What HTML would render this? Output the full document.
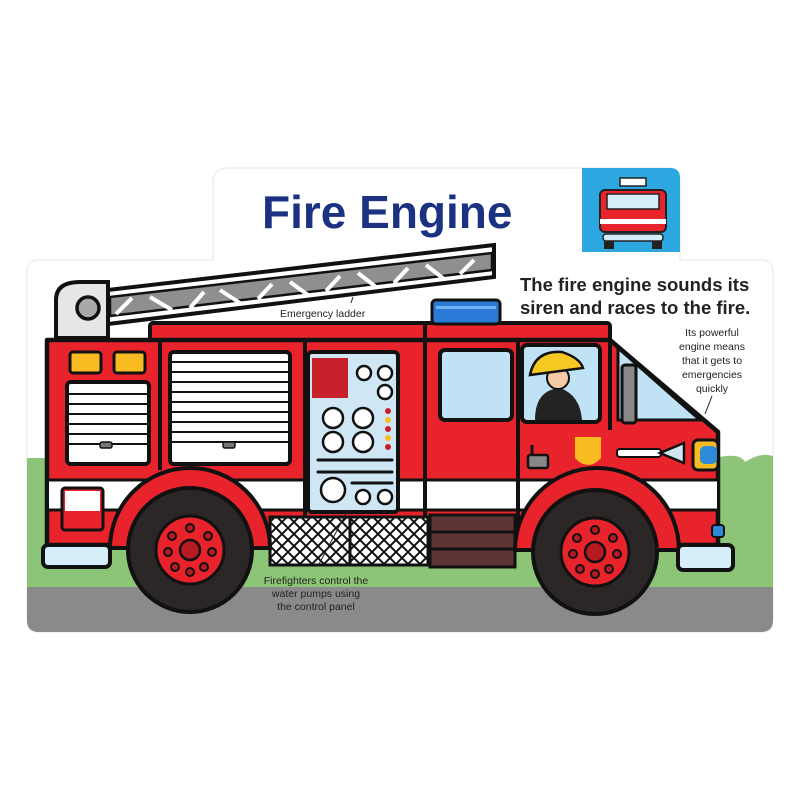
<!DOCTYPE html>
<html><head><meta charset="utf-8"><style>
html,body{margin:0;padding:0;background:#fff;}
svg{display:block}
text{font-family:"Liberation Sans",sans-serif;}
</style></head><body>
<svg width="800" height="800" viewBox="0 0 800 800" xmlns="http://www.w3.org/2000/svg">
<path d="M228 168 H668 Q680 168 680 180 V260 H761 Q773 260 773 272 V620 Q773 632 761 632 H39 Q27 632 27 620 V272 Q27 260 39 260 H213 V183 Q213 168 228 168 Z" fill="#fff" stroke="#eeeeee" stroke-width="1.5"/>
<path d="M27 458 H60 V588 H27 Z" fill="#8cc577"/>
<path d="M27 545 H773 V588 H27 Z" fill="#8cc577"/>
<path d="M715 458 Q740 452 745 462 Q760 452 773 456 V588 H715 Z" fill="#8cc577"/>
<path d="M27 587 H773 V620 Q773 632 761 632 H39 Q27 632 27 620 Z" fill="#8a8a8a"/>
<text x="262" y="228" font-size="46" font-weight="bold" fill="#1b3283">Fire Engine</text>
<text x="520" y="291" font-size="18.5" font-weight="bold" fill="#222">The fire engine sounds its</text>
<text x="520" y="314" font-size="18.5" font-weight="bold" fill="#222">siren and races to the fire.</text>
<path d="M582 168 H670 Q680 168 680 178 V252 H582 Z" fill="#2ca7e0"/>
<rect x="600" y="190" width="66" height="42" rx="5" fill="#e8232b" stroke="#222" stroke-width="2"/>
<rect x="607" y="194" width="52" height="15" fill="#d6eef9" stroke="#222" stroke-width="1.5"/>
<rect x="620" y="178" width="26" height="8" fill="#fff" stroke="#222" stroke-width="1.5"/>
<rect x="600" y="219" width="66" height="5" fill="#fff"/>
<rect x="603" y="234" width="60" height="7" rx="3" fill="#d6eef9" stroke="#222" stroke-width="1.5"/>
<rect x="604" y="241" width="10" height="8" fill="#222"/><rect x="652" y="241" width="10" height="8" fill="#222"/>
<path d="M56 338 V300 Q56 282 80 282 H108 V338 Z" fill="#e6e6e8" stroke="#111" stroke-width="4"/>
<circle cx="88" cy="308" r="11" fill="#a9a9a9" stroke="#111" stroke-width="3.5"/>
<path d="M108 290 L494 245 L494 277 L108 324 Z" fill="#fff" stroke="#111" stroke-width="4"/>
<path d="M110 297 L492 253 L492 270 L110 316 Z" fill="#8f8f8f" stroke="#111" stroke-width="2.5"/>
<g stroke="#fff" stroke-width="4">
<path d="M116 314 L132 298 M150 297 L172 310 M190 308 L204 292 M220 290 L240 303 M258 299 L272 284 M290 282 L308 295 M326 291 L340 276 M358 273 L376 287 M394 283 L408 268 M426 265 L444 279 M460 274 L474 260"/>
</g>
<rect x="150" y="323" width="460" height="18" rx="3" fill="#e8232b" stroke="#111" stroke-width="4"/>
<rect x="432" y="300" width="68" height="24" rx="4" fill="#2c7ad8" stroke="#111" stroke-width="3"/>
<rect x="436" y="306" width="60" height="3" fill="#6fb1f0"/>
<path d="M47 340 H610 L718 432 V545 H47 Z" fill="#e8232b" stroke="#111" stroke-width="4.5" stroke-linejoin="round"/>
<rect x="49" y="480" width="668" height="30" fill="#fff"/>
<path d="M47 480 H718 M47 510 H718" stroke="#111" stroke-width="3"/>
<path d="M160 340 V470 M305 340 V545 M425 322 V545 M518 340 V545 M610 340 V430" stroke="#111" stroke-width="4"/>
<rect x="70" y="352" width="31" height="21" rx="3" fill="#f8bb22" stroke="#111" stroke-width="3"/>
<rect x="114" y="352" width="31" height="21" rx="3" fill="#f8bb22" stroke="#111" stroke-width="3"/>
<rect x="67" y="382" width="82" height="82" rx="4" fill="#fff" stroke="#111" stroke-width="4"/>
<g stroke="#111" stroke-width="2"><path d="M69 394H147M69 404H147M69 414H147M69 424H147M69 434H147M69 444H147"/></g>
<rect x="170" y="352" width="120" height="112" rx="4" fill="#fff" stroke="#111" stroke-width="4"/>
<g stroke="#111" stroke-width="2"><path d="M172 362H288M172 372H288M172 382H288M172 392H288M172 402H288M172 412H288M172 422H288M172 432H288M172 442H288"/></g>
<rect x="100" y="442" width="12" height="6" rx="2" fill="#777" stroke="#111" stroke-width="1.5"/>
<rect x="223" y="442" width="12" height="6" rx="2" fill="#777" stroke="#111" stroke-width="1.5"/>
<rect x="62" y="488" width="41" height="42" rx="3" fill="#e8232b" stroke="#111" stroke-width="3"/>
<rect x="65" y="491" width="35" height="20" fill="#fff"/>
<rect x="308" y="352" width="90" height="160" rx="4" fill="#cfe7f5" stroke="#111" stroke-width="4"/>
<rect x="312" y="358" width="36" height="40" fill="#c8202a"/>
<g fill="#fff" stroke="#111" stroke-width="2.5">
<circle cx="364" cy="373" r="7"/><circle cx="385" cy="373" r="7"/><circle cx="385" cy="392" r="7"/>
<circle cx="333" cy="418" r="10"/><circle cx="363" cy="418" r="10"/>
<circle cx="333" cy="442" r="10"/><circle cx="363" cy="442" r="10"/>
<circle cx="333" cy="490" r="12"/><circle cx="363" cy="497" r="7"/><circle cx="385" cy="497" r="7"/>
</g>
<g fill="#c8202a"><circle cx="388" cy="411" r="3"/><circle cx="388" cy="429" r="3"/><circle cx="388" cy="447" r="3"/></g>
<g fill="#f8bb22"><circle cx="388" cy="420" r="3"/><circle cx="388" cy="438" r="3"/></g>
<g stroke="#111" stroke-width="3" stroke-linecap="round"><path d="M318 460H392M318 472H392M352 483H392"/></g>
<defs><pattern id="m" width="12" height="12" patternUnits="userSpaceOnUse"><path d="M0 0L12 12M12 0L0 12" stroke="#111" stroke-width="2"/></pattern></defs>
<rect x="270" y="517" width="80" height="48" fill="#fff" stroke="#111" stroke-width="3"/>
<rect x="270" y="517" width="80" height="48" fill="url(#m)"/>
<rect x="350" y="517" width="78" height="48" fill="#fff" stroke="#111" stroke-width="3"/>
<rect x="350" y="517" width="78" height="48" fill="url(#m)"/>
<rect x="430" y="515" width="85" height="52" fill="#5e3535" stroke="#111" stroke-width="3"/>
<path d="M430 532H515M430 549H515" stroke="#111" stroke-width="3"/>
<rect x="440" y="350" width="72" height="70" rx="5" fill="#bfe2f5" stroke="#111" stroke-width="4"/>
<rect x="522" y="345" width="78" height="77" rx="5" fill="#bfe2f5" stroke="#111" stroke-width="4"/>
<path d="M535 420 Q535 390 560 388 Q580 395 582 420 Z" fill="#222"/>
<circle cx="558" cy="378" r="11" fill="#f4c9a5" stroke="#111" stroke-width="2"/>
<path d="M530 375 Q535 350 562 352 Q580 358 583 368 Z" fill="#f8c822" stroke="#111" stroke-width="2.5"/>
<path d="M618 348 L700 420 H618 Z" fill="#bfe2f5" stroke="#111" stroke-width="3"/>
<rect x="622" y="365" width="14" height="58" rx="3" fill="#888" stroke="#111" stroke-width="3"/>
<path d="M532 460 V445" stroke="#111" stroke-width="3"/>
<rect x="528" y="455" width="20" height="13" rx="2" fill="#888" stroke="#111" stroke-width="2.5"/>
<path d="M575 437 H601 V458 Q588 472 575 458 Z" fill="#f8bb22"/>
<rect x="617" y="449" width="44" height="8" rx="3" fill="#fff" stroke="#111" stroke-width="2"/>
<path d="M660 453 L684 443 V463 Z" fill="#cfe7f5" stroke="#111" stroke-width="2.5"/>
<rect x="693" y="440" width="25" height="30" rx="5" fill="#f8bb22" stroke="#111" stroke-width="3"/>
<rect x="700" y="446" width="17" height="18" rx="5" fill="#2c8ad8"/>
<path d="M110 548 A80 80 0 0 1 270 548 Z" fill="#e8232b" stroke="#111" stroke-width="4"/>
<path d="M515 550 A82 82 0 0 1 679 550 Z" fill="#e8232b" stroke="#111" stroke-width="4"/>
<rect x="43" y="545" width="67" height="22" rx="5" fill="#d6eef9" stroke="#111" stroke-width="4"/>
<rect x="678" y="545" width="55" height="25" rx="5" fill="#d6eef9" stroke="#111" stroke-width="4"/>
<rect x="712" y="525" width="12" height="12" rx="3" fill="#2c8ad8" stroke="#111" stroke-width="2"/>
<circle cx="190" cy="550" r="62" fill="#2b2727" stroke="#111" stroke-width="4"/>
<circle cx="190" cy="550" r="34" fill="#e8232b" stroke="#111" stroke-width="3"/>
<circle cx="190" cy="550" r="10" fill="#b81a22" stroke="#111" stroke-width="2.5"/>
<circle cx="595" cy="552" r="62" fill="#2b2727" stroke="#111" stroke-width="4"/>
<circle cx="595" cy="552" r="34" fill="#e8232b" stroke="#111" stroke-width="3"/>
<circle cx="595" cy="552" r="10" fill="#b81a22" stroke="#111" stroke-width="2.5"/>
<g fill="#b81a22" stroke="#111" stroke-width="2">
<circle cx="190" cy="528" r="4"/><circle cx="208" cy="536" r="4"/><circle cx="212" cy="552" r="4"/><circle cx="204" cy="567" r="4"/><circle cx="190" cy="572" r="4"/><circle cx="175" cy="567" r="4"/><circle cx="168" cy="552" r="4"/><circle cx="172" cy="536" r="4"/>
<circle cx="595" cy="530" r="4"/><circle cx="613" cy="538" r="4"/><circle cx="617" cy="554" r="4"/><circle cx="609" cy="569" r="4"/><circle cx="595" cy="574" r="4"/><circle cx="580" cy="569" r="4"/><circle cx="573" cy="554" r="4"/><circle cx="577" cy="538" r="4"/>
</g>
<text x="280" y="317" font-size="10.5" fill="#222">Emergency ladder</text>
<path d="M351 303 L353 297" stroke="#222" stroke-width="1"/>
<g font-size="10.5" fill="#222" text-anchor="middle">
<text x="712" y="336">Its powerful</text>
<text x="712" y="350">engine means</text>
<text x="712" y="364">that it gets to</text>
<text x="712" y="378">emergencies</text>
<text x="712" y="392">quickly</text>
<text x="316" y="584">Firefighters control the</text>
<text x="316" y="597">water pumps using</text>
<text x="316" y="610">the control panel</text>
</g>
<path d="M712 396 L705 414" stroke="#222" stroke-width="1"/>
<path d="M318 566 L348 510" stroke="#222" stroke-width="1"/>
</svg>
</body></html>
